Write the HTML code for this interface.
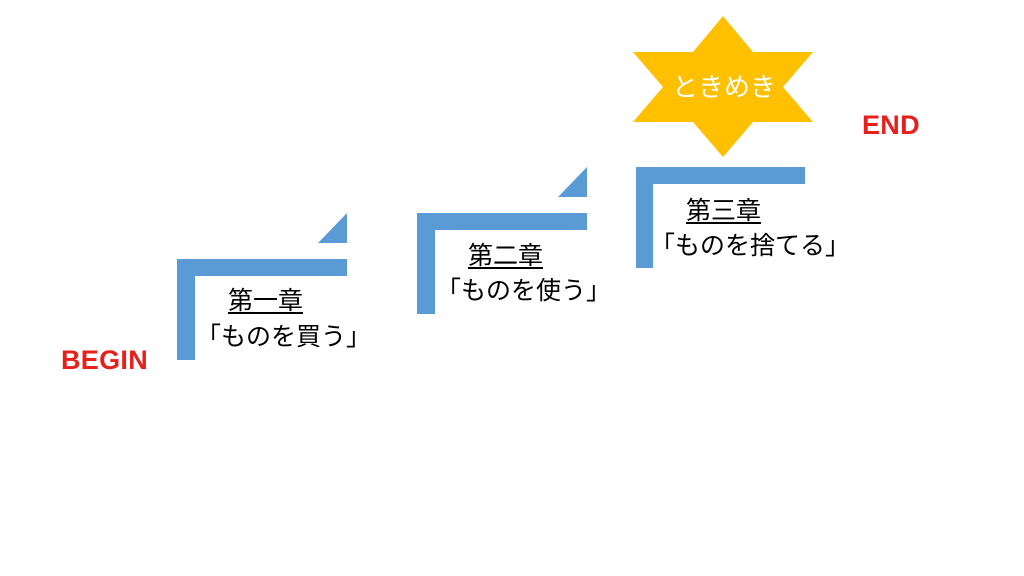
<!DOCTYPE html>
<html><head><meta charset="utf-8"><style>
html,body{margin:0;padding:0;background:#fff;}
body{width:1024px;height:576px;position:relative;overflow:hidden;font-family:"Liberation Sans","Noto Sans CJK JP",sans-serif;}
.t{position:absolute;white-space:nowrap;color:#000;font-size:25px;line-height:1;}
.h{text-decoration:underline;text-underline-offset:3px;text-decoration-thickness:1.5px;}
.r{position:absolute;color:#e8201b;font-weight:bold;font-size:26px;line-height:1;letter-spacing:0.3px;}
</style></head><body>
<svg width="1024" height="576" style="position:absolute;left:0;top:0">
<g fill="#5b9bd5">
<rect x="177" y="259" width="170" height="17"/><rect x="177" y="259" width="18" height="101"/>
<polygon points="347,213 347,243 318,243"/>
<rect x="417" y="213" width="170" height="17"/><rect x="417" y="213" width="18" height="101"/>
<polygon points="587,167 587,197 558,197"/>
<rect x="636" y="167" width="169" height="17"/><rect x="636" y="167" width="17" height="101"/>
</g>
<polygon fill="#ffc000" points="723,16 753,52 813,52 783,87 813,122 753,122 723,157 693,122 633,122 663,87 633,52 693,52"/>
</svg>
<div class="t" style="left:672px;top:74px;color:#fff;font-size:26px">ときめき</div>
<div class="t h" style="left:228px;top:289px">第一章</div>
<div class="t" style="left:196px;top:325px">「ものを買う」</div>
<div class="t h" style="left:468px;top:244px">第二章</div>
<div class="t" style="left:436px;top:279px">「ものを使う」</div>
<div class="t h" style="left:686px;top:199px">第三章</div>
<div class="t" style="left:650px;top:234px">「ものを捨てる」</div>
<div class="r" style="left:61px;top:347px;font-size:27px">BEGIN</div>
<div class="r" style="left:862px;top:112px;font-size:27px">END</div>
</body></html>
